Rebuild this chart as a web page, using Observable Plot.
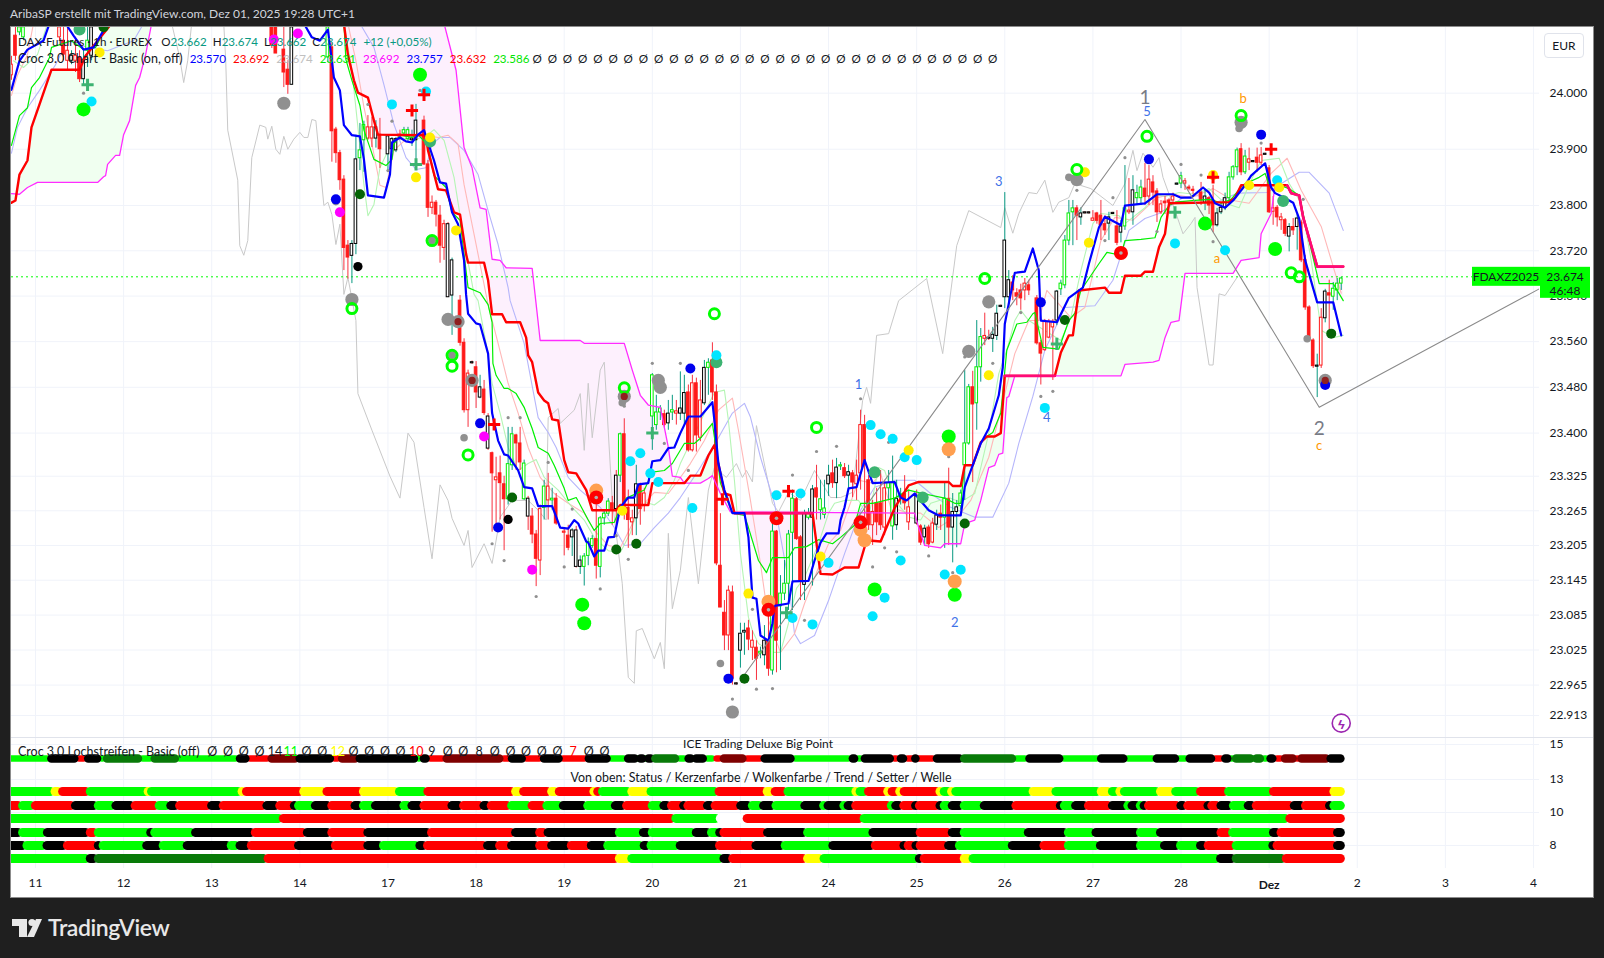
<!DOCTYPE html>
<html lang="de"><head><meta charset="utf-8">
<script src="https://cdn.jsdelivr.net/npm/d3@7"></script>
<script src="https://cdn.jsdelivr.net/npm/@observablehq/plot@0.6"></script>
<style>
html,body{margin:0;padding:0;background:#1f1f1f;width:1604px;height:958px;overflow:hidden;font-family:Lato,"Noto Sans",sans-serif;color:#131722}
.abs{position:absolute;white-space:pre;line-height:1}
#frame{position:absolute;left:10px;top:26px;width:1582px;height:870px;background:#fff;border:1px solid #8c8c8c;overflow:hidden}
#main,#lower{position:absolute;left:0;width:1582px}
#main{top:0;height:710px}#lower{top:710px;height:160px;border-top:1px solid #e0e3eb;box-sizing:border-box}
#main svg,#lower svg{display:block;background:transparent;overflow:visible}
</style></head><body>
<div class="abs" id="credit" style="left:10px;top:8px;color:#d1d4dc;font-size:12px"></div>
<div id="frame"><div id="main"></div><div id="lower"></div>
<div class="abs" id="leg1" style="left:7px;top:9px;font-size:11.6px"></div>
<div class="abs" id="leg2" style="left:7px;top:26px;font-size:12.5px"></div>
<div class="abs" style="left:1533px;top:6px;width:38px;height:23px;border:1px solid #e0e3eb;border-radius:4px;text-align:center;line-height:23px;font-size:12px;background:#fff">EUR</div>
<div class="abs" id="strip1" style="left:7px;top:719px;font-size:12.5px"></div>
<div class="abs" id="title1" style="left:747px;top:711px;transform:translateX(-50%);font-size:12px"></div>
<div class="abs" id="title2" style="left:750px;top:745px;transform:translateX(-50%);font-size:12.4px"></div>
</div>
<svg style="position:absolute;left:11px;top:917px" width="32" height="22"><rect x="1" y="2" width="15" height="7" fill="#e8e8e8"/><rect x="8" y="2" width="8" height="18" fill="#e8e8e8"/><circle cx="21" cy="5.5" r="3.6" fill="#e8e8e8"/><polygon points="25,2 31,2 23,20 16,20" fill="#e8e8e8"/></svg>
<div class="abs" style="left:48px;top:916px;color:#e8e8e8;font-size:23px;font-weight:600;letter-spacing:-.4px">TradingView</div>
<script>
// x = hourly bar number, bar 0 = session "11"; 22 bars per session
const sessionLabels=["11","12","13","14","17","18","19","20","21","24","25","26","27","28","Dez","2","3","4"];
const barsPerSession=22;
const priceTicks=[24000,23900,23800,23720,23640,23560,23480,23400,23325,23265,23205,23145,23085,23025,22965,22913];
const lastPrice=23674;

const blueLine=[[-6,24006],[-4,24058],[-2,24078],[2,24094],[3.5,24125],[7.5,24125],[9.5,24103],[12,24078],[14.5,24082],[18,24125],[67,24125],[69,24100],[71,24094],[73,24114],[74,24058],[74.5,24028],[76,24005],[77,23943],[79,23925],[81,23923],[82,23882],[83,23818],[87,23814],[88.5,23855],[89,23912],[91,23921],[92.5,23914],[94,23912],[95.5,23926],[97,23934],[98,23912],[99.5,23880],[101,23841],[102.5,23839],[104,23788],[105.5,23767],[107,23703],[107.5,23643],[108,23609],[110,23592],[111,23590],[113,23539],[114,23435],[115.5,23387],[117,23363],[118,23361],[120.5,23335],[122,23306],[124,23304],[125.5,23273],[129,23273],[131,23236],[133,23234],[134.5,23249],[135.5,23243],[137.5,23212],[138,23210],[139.5,23186],[140.5,23196],[142,23196],[143,23219],[144.5,23220],[146,23271],[148,23288],[149.5,23288],[150.5,23311],[153,23313],[154,23351],[156,23353],[158,23374],[159.5,23375],[161,23400],[163,23429],[166,23429],[169,23454],[169.5,23422],[170.5,23347],[172,23301],[174,23261],[177,23261],[178,23219],[179,23115],[180,23113],[181,23050],[183,23041],[184,23071],[184.5,23101],[188,23105],[189,23143],[193,23144],[194.5,23179],[196,23210],[197.5,23226],[200.5,23226],[201,23249],[202,23271],[203,23304],[205,23306],[207,23353],[209,23313],[214.5,23315],[216,23288],[217.5,23283],[219.5,23295],[221.5,23278],[223,23266],[225.5,23257],[231,23257],[232,23306],[236,23382],[238,23408],[240.5,23466],[241.5,23515],[242,23591],[244.5,23681],[247,23683],[249,23724],[250.5,23685],[251,23597],[255,23594],[258,23637],[261.5,23655],[263,23697],[265.5,23761],[267,23780],[271,23765],[272,23800],[277,23804],[280,23820],[284,23820],[286,23814],[288.5,23814],[291.5,23832],[293,23823],[294.5,23804],[297,23796],[299,23809],[302,23836],[303.5,23853],[307,23875],[308.5,23832],[309.5,23822],[312,23813],[314,23805],[315.5,23777],[317,23703],[320,23629],[324,23629],[326,23571]];
const redLine=[[-6,23805],[-5,23809],[-4,23855],[-2,23880],[-1,23939],[1,23980],[4,24042],[11,24042],[12.5,24067],[19,24125],[21,24300],[75,24300],[77,24125],[78,24069],[79.5,24023],[80.5,24001],[83,23992],[84.5,23951],[85.5,23926],[97,23925],[97.5,23921],[98,23898],[100.5,23829],[102.5,23827],[104.5,23788],[106,23784],[107.5,23714],[108,23699],[112,23699],[113,23668],[114,23608],[116.5,23608],[117.5,23594],[121,23594],[122.5,23567],[123,23536],[124,23524],[125.5,23471],[127,23457],[128,23452],[129,23424],[130.5,23422],[132,23353],[133,23332],[135,23330],[137.5,23301],[139,23266],[145,23266],[146,23275],[153,23275],[154,23313],[162,23313],[163.5,23326],[166,23326],[168,23361],[169.5,23379],[171,23330],[172,23295],[173.5,23292],[174.5,23261],[194,23261],[196,23156],[199,23155],[202,23167],[205.5,23167],[207.5,23214],[211,23212],[214.5,23270],[218,23309],[220.5,23315],[228,23315],[229,23308],[231,23308],[232,23344],[234,23344],[236,23384],[237.5,23394],[239.5,23394],[241,23400],[242,23500],[254.5,23500],[256,23541],[258,23571],[259,23571],[260.5,23650],[267,23655],[268,23646],[271,23646],[272,23676],[276,23676],[277,23683],[279,23683],[280.5,23726],[282,23750],[283,23804],[298,23806],[299.5,23814],[301,23836],[312.5,23836],[313.5,23822],[315.5,23818],[316.5,23779],[320,23692],[326.5,23692]];
const magentaLine=[[-6,23821],[-4,23820],[-2,23832],[0.5,23841],[15.5,23841],[17,23851],[17.5,23853],[18,23873],[20,23889],[21,23889],[22,23926],[23.5,23951],[25,24014],[26,24028],[27.5,24069],[29,24125],[31,24300],[100,24300],[102,24125],[105,24041],[107,23903],[109,23867],[111,23796],[112.5,23793],[114,23705],[116,23703],[117.5,23690],[124,23689],[126,23562],[136,23562],[137,23557],[147,23557],[149,23510],[151,23466],[153,23449],[156,23445],[158,23375],[159,23325],[161,23323],[162,23313],[166,23313],[168,23321],[169,23326],[171,23295],[173.5,23263],[219.5,23261],[220.5,23236],[222,23205],[226,23201],[227,23208],[231,23208],[232,23243],[234.5,23249],[236,23283],[238,23340],[239.5,23344],[240.5,23363],[241.5,23365],[242.5,23462],[243,23464],[244.5,23500],[271,23500],[272,23520],[279,23524],[280.5,23527],[282,23567],[283.5,23594],[285.5,23597],[287,23680],[299,23680],[301,23703],[305.5,23708],[306,23750],[308.5,23786],[309.5,23836],[312.5,23836],[313.5,23822],[315.5,23818],[316.5,23779],[320,23692],[326.5,23692]];
const pinkFlatA=[[174.5,23261],[194,23261]];
const pinkFlatB=[[242,23500],[254.5,23500]];
const pinkFlatC=[[312.5,23836],[313.5,23822],[315.5,23818],[316.5,23779],[320,23692],[326.5,23692]];
const greenLine=[[-6,23907],[-4,23960],[-2,23974],[-1,24010],[1,24028],[3.5,24064],[4,24082],[9,24094],[12,24078],[15,24082],[18,24125],[77,24125],[77.5,24060],[79,24023],[81,23978],[82,23934],[84.5,23882],[87.5,23871],[89,23882],[89.5,23909],[91,23925],[94,23921],[95.5,23926],[98,23907],[99.5,23853],[102.5,23832],[104,23788],[106,23774],[107,23714],[108,23655],[111,23646],[113,23625],[114,23594],[114.2,23522],[115,23501],[117,23478],[118,23478],[120,23469],[122,23445],[124,23408],[125.5,23375],[128,23365],[129.5,23344],[132,23304],[133,23283],[135,23288],[136,23275],[138,23249],[139.5,23231],[141,23243],[144.5,23245],[146,23270],[147.5,23287],[152,23301],[154,23332],[157,23335],[159,23347],[162,23382],[164.5,23382],[166,23391],[169,23417],[170,23370],[171,23313],[174,23261],[177,23257],[178,23236],[180.5,23179],[182.5,23158],[184,23184],[188,23184],[189.5,23201],[192.5,23203],[195.5,23215],[199,23208],[201,23219],[204.5,23240],[206,23278],[209,23278],[214.5,23287],[218,23301],[221.5,23295],[227,23287],[229.5,23278],[231,23278],[232,23344],[234,23344],[236,23384],[237.5,23394],[239,23401],[241,23435],[242.5,23545],[245,23591],[247.5,23594],[249,23609],[249.5,23611],[251.5,23550],[255.5,23547],[258,23597],[259.5,23610],[261,23650],[263,23671],[265.5,23697],[267.5,23717],[271,23712],[272,23738],[276,23740],[279.5,23743],[281,23779],[283,23800],[284.5,23806],[289.5,23809],[293.5,23811],[296,23804],[298.5,23811],[301.5,23837],[305.5,23850],[307,23857],[308,23836],[310.5,23836],[313,23830],[315.5,23818],[317.5,23752],[320.5,23662],[324,23662],[326.5,23632]];
const paleGreenLine=[[-5.5,24058],[-3,24046],[0.5,24069],[3,24125],[77,24125],[79,24041],[80.5,23939],[82,23837],[83,23782],[84.5,23802],[86,23867],[89,23912],[91,23921],[94.5,23916],[98,23926],[99.5,23935],[102,23916],[104.5,23850],[107,23738],[109.5,23643],[110.5,23632],[112.5,23557],[114,23487],[116,23435],[118,23375],[120.5,23335],[123,23347],[125,23354],[127,23323],[130.5,23301],[134,23271],[137,23249],[139.5,23219],[143,23196],[146,23193],[148.5,23226],[151,23283],[154.5,23275],[157,23288],[159.5,23318],[161,23347],[169.5,23471],[172,23475],[173,23422],[174.5,23318],[176,23191],[178,23081],[179,23058],[180.5,23036],[184,23021],[186,23021],[188,23071],[190,23131],[192,23150],[195.5,23208],[198,23261],[199.5,23278],[202,23283],[205.5,23283],[208,23254],[210.5,23340],[212,23335],[214.5,23283],[218,23254],[221,23249],[223.5,23278],[228,23288],[231,23280],[234.5,23295],[238,23400],[240.5,23504],[242.5,23545],[244.5,23597],[246,23615],[248,23597],[256,23562],[258.5,23602],[261,23685],[264,23768],[266,23786],[270.5,23782],[272,23768],[277,23796],[279.5,23820],[282,23816],[285.5,23823],[289.5,23820],[293,23830],[297,23804],[300.5,23796],[303.5,23845],[306,23880],[310.5,23884],[313,23839],[316,23804],[318.5,23703],[321,23580],[324,23567],[326.5,23571]];
const paleRedLine=[[-6,23996],[-4.5,24032],[-2,24069],[-0.5,24125],[78,24125],[80,24058],[82,23975],[84,23909],[86,23836],[87.5,23832],[89.5,23898],[93,23921],[97,23926],[100.5,23921],[103,23925],[105.5,23909],[107,23837],[109.5,23749],[113,23625],[115.5,23557],[118,23487],[120.5,23435],[123,23375],[126,23323],[129.5,23295],[133,23278],[137,23261],[139.5,23231],[143,23205],[146,23201],[149.5,23249],[152,23278],[154.5,23297],[158,23295],[160.5,23318],[163.5,23347],[167,23387],[170.5,23440],[174,23461],[175.5,23405],[178.5,23283],[181,23174],[183,23076],[186,23021],[189.5,23053],[192,23105],[195.5,23167],[198,23208],[201,23231],[205.5,23318],[209,23313],[211,23330],[213.5,23271],[218,23261],[221,23261],[225.5,23236],[231,23261],[233.5,23283],[238,23358],[241,23440],[244.5,23539],[248,23597],[250.5,23597],[252.5,23650],[258.5,23602],[262,23620],[266,23738],[269.5,23779],[274,23774],[280,23814],[284,23820],[288.5,23814],[294,23830],[299,23809],[303,23804],[308.5,23857],[312.5,23884],[316,23827],[321,23763],[324.5,23680],[326,23645]];
const paleBlueLine=[[-6,23893],[-4.5,23939],[-2,23974],[1,24005],[5,24051],[8,24094],[13,24082],[18,24076],[22,24087],[24.5,24094],[27,24125],[81,24125],[84.5,24082],[87,24015],[89.5,23944],[92.5,23885],[95,23864],[97.5,23867],[99,23909],[101,23921],[103.5,23921],[107,23898],[110.5,23855],[113,23791],[115.5,23731],[118,23655],[118.5,23632],[122,23557],[125.5,23427],[128,23401],[130,23375],[133,23323],[136,23301],[141,23271],[144.5,23236],[147,23205],[151,23208],[154.5,23236],[158,23261],[161,23288],[165.5,23335],[170.5,23392],[174,23435],[177,23452],[178.5,23428],[181,23358],[184.5,23278],[188,23144],[189.5,23053],[191,23036],[194.5,23050],[198,23110],[202,23191],[206,23266],[209.5,23306],[214.5,23318],[219.5,23318],[223.5,23295],[228.5,23271],[234.5,23254],[239,23254],[243,23313],[245.5,23382],[249,23464],[252,23545],[257,23620],[264.5,23623],[269,23668],[273,23756],[277,23777],[280.5,23786],[286.5,23814],[290,23818],[295,23806],[300,23822],[307.5,23823],[315.5,23859],[318,23859],[323,23822],[326.5,23756]];
const greyLine=[[34,24125],[36,24064],[37,24019],[38,24058],[39,24125],[47,24125],[47.5,24058],[48,23934],[50.5,23845],[51,23729],[52,23712],[53,23738],[54,23885],[56,23943],[57.5,23939],[58,23918],[59,23941],[60,23900],[61,23891],[62,23923],[63,23900],[64.5,23918],[66,23930],[67,23921],[68,23921],[69,23953],[70,23951],[72,23800],[73,23806],[74,23784],[75,23731],[76,23767],[77,23643],[78,23673],[80,23597],[80.5,23469],[84,23405],[88.5,23325],[91,23287],[93,23400],[94.5,23384],[97,23271],[99,23182],[101,23310],[103,23283],[104,23252],[107,23205],[108,23231],[109,23167],[112,23208],[114,23174],[116,23254],[119,23283],[123,23283],[125.5,23266],[127.5,23249],[128,23427],[130.5,23443],[131,23417],[134.5,23440],[136,23469],[137,23370],[138,23487],[139,23392],[141,23510],[142,23524],[144,23283],[146.5,23139],[148,22978],[149.5,22968],[150,23058],[151.5,23062],[154.5,23010],[156,23038],[157,22993],[158,23226],[159,23096],[161,23162],[163,23288],[165.5,23139],[168,23301],[169.5,23340],[172.5,23323],[175,23347],[176.5,23323],[177.5,23335],[179,23315],[180,23413],[184,23278],[185.5,23263],[188,23297],[191,23283],[194.5,23335],[198.5,23288],[201,23288],[204,23297],[206.5,23457],[207.5,23480],[208.5,23452],[210,23571],[213,23574],[215.5,23632],[222.5,23671],[226.5,23539],[230,23729],[233,23791],[241,23761],[242,23796],[244,23751],[245.5,23786],[248,23823],[250,23821],[252,23845],[254,23788],[255.5,23806],[258,23814],[259.5,23839],[263.5,23830],[269,23800],[272,23839],[274,23898],[275,23862],[276.5,23893],[279,23868],[280.5,23885],[281.5,23850],[284.5,23791],[286.5,23750],[288.5,23768],[289.5,23779],[290,23655],[293,23519],[294,23519],[295.5,23644],[297,23641],[300,23673]];
const waveLine=[[176.5,22978],[277,23953],[320.5,23445],[375.5,23653]];

// [bar, body high, body low, wick high, wick low, kind]  g green, r red hollow, R red solid, k black/teal wick, K black/red wick
const candlesA=[[-6,24051,24032,24066,24023,"r"],[-5,24103,24067,24118,24058,"R"],[-4,24118,24109,24118,24103,"g"],[-3,24118,24100,24118,24094,"g"],[6,24118,24100,24118,24094,"r"],[7,24094,24069,24118,24058,"R"],[8,24076,24058,24118,24039,"r"],[9,24067,24058,24076,24051,"k"],[10,24067,24058,24100,24037,"r"],[11,24064,24025,24076,24019,"R"],[12,24060,24025,24076,24014,"k"],[13,24094,24076,24118,24046,"g"],[14,24118,24067,24118,24058,"k"],[59,24118,24085,24118,24080,"R"],[60,24118,24071,24118,24071,"R"],[62,24078,24037,24118,24010,"R"],[63,24042,24015,24058,23998,"R"],[64,24118,24015,24118,24015,"k"],[73,24118,24064,24118,24055,"g"],[74,24082,23932,24090,23877,"R"],[75,23935,23893,23939,23875,"R"],[76,23893,23845,23898,23827,"R"],[77,23846,23725,23853,23685,"R"],[78,23729,23708,23738,23670,"R"],[79,23732,23711,23738,23662,"k"],[80,23882,23732,23925,23713,"k"],[81,23898,23884,23946,23862,"g"],[82,23943,23916,23950,23859,"g"],[83,23939,23919,23960,23916,"r"],[84,23939,23919,23957,23903,"r"],[85,23939,23919,23951,23902,"k"],[86,23926,23900,23955,23866,"R"],[88,23923,23891,23925,23862,"k"],[89,23918,23900,23921,23894,"k"],[90,23918,23898,23921,23894,"k"],[91,23926,23919,23934,23916,"r"],[92,23934,23928,23939,23924,"g"],[93,23934,23918,23939,23912,"g"],[94,23919,23916,23934,23905,"k"],[95,23951,23916,23980,23871,"k"],[97,23951,23873,23959,23871,"R"],[98,23873,23796,23880,23779,"R"],[99,23805,23796,23817,23784,"r"],[100,23805,23784,23809,23762,"R"],[101,23782,23729,23800,23698,"R"],[102,23767,23725,23774,23703,"r"],[103,23767,23638,23770,23638,"K"],[104,23703,23641,23707,23571,"k"],[106,23632,23558,23641,23552,"R"],[107,23558,23440,23565,23435,"R"],[108,23504,23440,23510,23410,"r"],[109,23524,23522,23526,23520,"K"],[110,23515,23471,23525,23443,"R"],[111,23480,23462,23501,23460,"k"],[112,23476,23435,23492,23431,"R"],[113,23429,23373,23434,23370,"K"],[114,23365,23330,23367,23228,"R"],[115,23323,23318,23358,23231,"r"],[116,23330,23313,23360,23249,"R"],[117,23311,23285,23325,23196,"R"],[118,23346,23285,23410,23275,"g"],[119,23398,23344,23410,23335,"g"],[120,23396,23382,23398,23335,"R"],[121,23382,23349,23410,23335,"R"],[122,23347,23285,23353,23283,"g"],[123,23286,23255,23290,23231,"K"],[124,23255,23224,23269,23208,"R"],[125,23224,23182,23231,23134,"R"],[126,23268,23179,23275,23153,"r"],[127,23307,23270,23318,23249,"g"],[128,23307,23283,23330,23249,"r"],[129,23286,23283,23304,23266,"g"],[130,23286,23243,23295,23240,"R"]];
const candlesB=[[132,23229,23227,23236,23187,"r"],[133,23222,23201,23240,23196,"R"],[134,23231,23219,23234,23186,"k"],[135,23231,23168,23238,23166,"K"],[136,23179,23168,23187,23155,"k"],[137,23186,23168,23191,23135,"g"],[138,23211,23187,23218,23170,"g"],[139,23216,23204,23222,23200,"g"],[140,23216,23170,23275,23147,"R"],[141,23252,23168,23255,23149,"g"],[142,23260,23252,23266,23240,"g"],[143,23281,23260,23286,23255,"g"],[144,23278,23268,23290,23240,"R"],[145,23326,23268,23335,23243,"K"],[146,23398,23326,23400,23314,"g"],[147,23398,23270,23425,23249,"R"],[148,23270,23249,23301,23200,"R"],[149,23252,23245,23266,23222,"r"],[150,23311,23252,23344,23222,"k"],[151,23309,23268,23313,23240,"R"],[152,23295,23275,23304,23263,"r"],[154,23501,23429,23504,23370,"g"],[155,23436,23414,23466,23405,"g"],[156,23443,23436,23448,23422,"g"],[157,23433,23414,23440,23409,"R"],[158,23434,23417,23457,23405,"k"],[159,23440,23436,23466,23422,"g"],[160,23438,23434,23457,23414,"r"],[161,23443,23434,23507,23422,"k"],[162,23470,23434,23501,23414,"k"],[163,23471,23370,23484,23367,"R"],[164,23487,23370,23501,23367,"r"],[165,23487,23396,23496,23367,"R"],[166,23457,23392,23492,23385,"r"],[167,23514,23452,23527,23448,"k"],[168,23523,23514,23530,23466,"g"],[169,23527,23471,23558,23457,"R"],[170,23471,23174,23484,23170,"R"],[171,23170,23098,23260,23098,"R"],[172,23089,23050,23110,23024,"R"],[173,23127,23050,23135,23024,"r"],[174,23124,22976,23135,22965,"R"],[175,22968,22966,22969,22965,"K"],[176,23053,23024,23071,22994,"k"],[177,23058,23055,23071,23016,"k"],[178,23062,23043,23076,23024,"R"],[179,23041,23029,23058,23007,"r"],[180,23029,23010,23041,22973,"R"],[181,23022,23019,23030,23010,"g"],[182,23041,23016,23067,22998,"k"],[183,23041,22993,23103,22980,"R"],[184,23229,22990,23245,22982,"g"],[185,23229,23041,23231,22986,"R"],[186,23122,23100,23153,22990,"g"],[187,23139,23122,23179,23110,"g"],[188,23224,23139,23231,23093,"g"],[189,23286,23227,23301,23093,"g"],[190,23285,23216,23288,23214,"R"],[191,23219,23144,23222,23110,"R"],[192,23260,23137,23266,23110,"k"],[193,23260,23253,23269,23249,"g"],[194,23302,23253,23309,23135,"k"],[195,23304,23288,23344,23249,"R"],[196,23285,23266,23318,23249,"g"],[197,23269,23258,23318,23251,"g"],[198,23326,23311,23344,23290,"k"],[199,23330,23313,23353,23304,"R"],[200,23340,23313,23356,23286,"k"],[201,23344,23342,23349,23335,"g"],[202,23339,23325,23347,23321,"R"],[203,23332,23326,23344,23301,"k"],[204,23330,23314,23335,23288,"R"],[205,23326,23311,23353,23283,"r"],[206,23414,23330,23440,23301,"r"],[207,23414,23344,23431,23240,"R"],[208,23318,23240,23326,23231,"R"],[209,23263,23240,23283,23205,"r"],[210,23278,23245,23304,23222,"R"],[211,23278,23240,23335,23231,"R"],[212,23304,23236,23318,23222,"r"],[213,23313,23304,23335,23283,"g"],[214,23313,23238,23360,23214,"g"],[215,23286,23240,23318,23231,"k"],[216,23293,23288,23304,23275,"g"],[217,23295,23278,23326,23266,"R"],[218,23271,23245,23301,23231,"r"],[220,23290,23243,23301,23240,"K"],[221,23238,23210,23241,23205,"R"],[222,23234,23219,23240,23205,"k"],[223,23236,23207,23240,23200,"R"],[224,23243,23210,23252,23208,"r"],[225,23257,23241,23266,23231,"k"],[226,23260,23253,23275,23231,"R"],[227,23286,23253,23313,23200,"g"],[228,23285,23236,23339,23205,"R"],[229,23263,23236,23295,23175,"k"],[230,23271,23263,23283,23201,"k"],[231,23295,23273,23301,23266,"g"]];
const candlesC=[[232,23382,23344,23510,23283,"g"],[233,23480,23382,23485,23379,"g"],[234,23480,23450,23508,23314,"R"],[235,23515,23452,23597,23405,"g"],[236,23568,23515,23583,23489,"g"],[237,23570,23565,23610,23553,"r"],[238,23567,23565,23580,23562,"K"],[239,23572,23565,23585,23541,"k"],[240,23609,23570,23624,23562,"k"],[241,23623,23621,23624,23620,"K"],[242,23738,23638,23823,23618,"k"],[243,23668,23638,23685,23615,"k"],[244,23664,23650,23676,23632,"R"],[245,23645,23639,23653,23623,"R"],[246,23650,23636,23661,23615,"R"],[247,23662,23650,23671,23632,"r"],[248,23659,23650,23668,23641,"R"],[250,23636,23557,23641,23554,"R"],[251,23557,23539,23562,23484,"R"],[252,23595,23545,23599,23543,"r"],[253,23595,23567,23599,23565,"r"],[254,23595,23585,23599,23492,"r"],[255,23648,23597,23650,23588,"k"],[256,23662,23652,23668,23641,"g"],[257,23738,23659,23747,23653,"g"],[258,23786,23738,23809,23729,"g"],[259,23795,23788,23809,23729,"g"],[260,23795,23782,23800,23738,"R"],[261,23786,23779,23796,23765,"k"],[262,23788,23786,23789,23785,"K"],[263,23788,23786,23789,23785,"K"],[264,23777,23773,23791,23773,"r"],[265,23786,23773,23788,23767,"R"],[266,23782,23765,23809,23738,"R"],[267,23767,23756,23782,23747,"R"],[268,23779,23768,23788,23738,"k"],[269,23787,23785,23788,23784,"K"],[270,23763,23734,23791,23729,"R"],[271,23763,23752,23774,23734,"k"],[272,23795,23763,23871,23756,"g"],[273,23791,23788,23848,23784,"r"],[274,23827,23788,23853,23765,"k"],[275,23822,23813,23836,23800,"g"],[276,23832,23813,23845,23800,"g"],[277,23830,23815,23875,23800,"R"],[278,23846,23816,23871,23800,"r"],[279,23841,23823,23853,23800,"R"],[280,23825,23788,23830,23770,"R"]];
const candlesD=[[281,23802,23788,23809,23784,"r"],[282,23807,23804,23816,23784,"R"],[283,23809,23805,23812,23800,"R"],[284,23816,23809,23822,23805,"r"],[285,23839,23837,23840,23836,"k"],[286,23852,23839,23859,23830,"g"],[287,23843,23839,23848,23827,"r"],[288,23832,23830,23836,23826,"R"],[289,23828,23826,23834,23820,"R"],[291,23823,23809,23841,23800,"R"],[292,23816,23805,23827,23791,"k"],[293,23813,23800,23816,23784,"R"],[294,23809,23765,23836,23752,"R"],[295,23786,23765,23795,23762,"k"],[296,23796,23788,23804,23784,"k"],[297,23813,23796,23822,23791,"k"],[298,23850,23813,23859,23800,"g"],[299,23868,23850,23871,23845,"g"],[300,23898,23868,23902,23853,"g"],[301,23900,23859,23910,23853,"R"],[302,23887,23859,23898,23855,"g"],[303,23882,23876,23902,23862,"r"],[304,23879,23877,23880,23876,"k"],[305,23885,23876,23902,23859,"R"],[306,23889,23876,23903,23871,"r"],[307,23892,23890,23893,23889,"K"],[308,23866,23788,23871,23786,"R"],[309,23795,23789,23816,23765,"r"],[310,23796,23779,23800,23762,"R"],[311,23779,23774,23786,23756,"r"],[312,23774,23750,23777,23745,"R"],[313,23762,23745,23768,23718,"k"],[314,23762,23756,23777,23747,"R"],[315,23777,23762,23784,23721,"k"],[316,23770,23703,23774,23699,"R"],[317,23704,23620,23712,23615,"R"],[318,23620,23564,23623,23560,"R"],[319,23562,23517,23565,23513,"R"],[320,23518,23516,23538,23462,"k"],[321,23602,23518,23618,23513,"r"],[322,23648,23601,23652,23593,"k"],[323,23645,23641,23668,23580,"R"],[324,23653,23639,23664,23615,"g"],[325,23662,23650,23671,23632,"g"],[326,23671,23662,23673,23650,"g"]];

const limeDots=[[12,23971],[96,24033],[136.5,23103],[137,23071],[209.5,23129],[229.5,23120],[228,23394],[292,23768],[309.5,23723]];
const limeRings=[[79,23618],[99,23738],[104,23536],[104,23517],[108,23362],[147,23479],[169.5,23609],[195,23410],[237,23671],[260,23864],[277.5,23923],[301,23960],[313.5,23681],[315.5,23674]];
const greyBig=[[62,23982],[79,23634],[103,23599],[105.5,23595],[109,23492],[155.5,23492],[156,23480],[147,23464],[174,22919],[233,23543],[238,23630],[260,23846],[301,23948],[322,23492]];
const greyMid=[[146.5,23453],[107,23392],[171,23002],[75,23807],[258,23850],[300.5,23937],[317.5,23565],[99,23738],[104,23536]];
const darkRedDots=[[105.5,23595],[109,23492],[147,23464],[322,23492]];
const cyanDots=[[14,23985],[89,23980],[97.5,24003],[148.5,23351],[151,23365],[153.5,23330],[155.5,23315],[164,23270],[170,23536],[185,23292],[191,23295],[198,23175],[189,23080],[194,23069],[208.5,23414],[211,23398],[214,23390],[217,23358],[220,23353],[216,23179],[212,23115],[209,23083],[227,23155],[231,23163],[252,23444],[284.5,23733],[297,23721],[310,23845]];
const yellowDots=[[16,24073],[98.5,23921],[95,23850],[105,23756],[146.5,23265],[178,23122],[196,23186],[218,23370],[238,23501],[263,23734],[303,23836],[310.5,23832],[294,23854],[262,23859]];
const blueDots=[[75,23811],[111,23417],[115.5,23236],[163.5,23513],[173,22976],[251,23629],[278,23882],[306,23926],[322,23484]];
const magentaDots=[[59.5,24096],[65.5,24107],[76,23788],[112,23394],[124,23163]];
const blackDots=[[80.5,23692],[118,23250]];
const darkGreenDots=[[17,24118],[81,23820],[119,23288],[145,23198],[150,23208],[177,22976],[232,23243],[257,23598],[323.5,23574]];
const seaGreenDots=[[11,24114],[98.5,23914],[170,23524],[209.5,23332],[221.5,23288],[311.5,23808]];
const orangeDots=[[140,23300],[183,23108],[206,23232],[207,23214],[228,23372],[229.5,23143]];
const redDots=[[140,23288],[183,23094],[185,23252],[206,23245],[271,23716]];
const redPlus=[[114.5,23415],[94,23969],[97,23997],[171.5,23285],[188,23299],[294,23850],[308.5,23900]];
const greenPlus=[[13,24015],[95,23873],[154,23400],[187.5,23089],[255,23556],[284.5,23788]];
const smallGrey=[[12,24000],[83,23980],[89,23950],[88,23862],[96,24005],[118,23427],[121,23427],[128,23349],[134,23268],[114,23208],[117,23179],[125,23117],[132,23168],[141,23130],[145,23222],[148,23181],[147,23447],[154,23522],[157,23382],[161,23522],[163,23335],[174,22941],[180,22958],[184,22959],[179,23095],[189,23327],[195,23368],[200,23377],[206,23460],[213,23384],[192,23076],[209,23168],[212,23201],[215,23194],[223,23187],[228,23359],[229,23158],[232,23533],[239,23522],[246,23611],[251,23464],[254,23473],[260,23827],[269,23814],[267,23738],[272,23885],[280,23754],[286,23873],[291,23854],[294,23736],[306,23911],[316.5,23811]];
const waveLabels=[[277,23992,"1","#787b86",19],[277.5,23966,"5","#3f72e8",13],[301.5,23990,"b","#ff9800",13],[295,23705,"a","#ff9800",13],[240.5,23842,"3","#3f72e8",13],[205.5,23484,"1","#3f72e8",13],[252.5,23427,"4","#3f72e8",13],[229.5,23072,"2","#3f72e8",13],[320.5,23408,"2","#787b86",19],[320.5,23377,"c","#ff9800",13]];

// status strips: [start bar, colour code], last entry closes the row
const stripBig=[[-7,"L"],[3.5,"K"],[10.4,"R"],[12.7,"K"],[16.1,"L"],[17.4,"D"],[26.3,"L"],[29.3,"D"],[35.5,"L"],[50.6,"K"],[53.1,"R"],[58.5,"M"],[65.5,"K"],[74.2,"R"],[76.1,"M"],[80.5,"K"],[95.2,"L"],[96.5,"K"],[98.1,"R"],[102.2,"M"],[116.5,"R"],[118.5,"K"],[122.1,"R"],[126.5,"K"],[131.3,"R"],[137.7,"K"],[143.3,"L"],[147.5,"K"],[150.3,"L"],[150.6,"K"],[152.2,"L"],[152.6,"K"],[154.3,"D"],[160.4,"L"],[162.6,"K"],[164.3,"L"],[164.5,"K"],[167.3,"L"],[169.6,"R"],[171.4,"M"],[177.2,"R"],[181.6,"K"],[189.2,"L"],[203.6,"K"],[205.1,"L"],[206.6,"K"],[214,"R"],[215.6,"K"],[217.3,"R"],[219.5,"K"],[220.1,"R"],[224.6,"K"],[231.4,"D"],[244.5,"L"],[247.7,"K"],[256.3,"L"],[265.6,"K"],[272.3,"L"],[279.5,"K"],[285.2,"L"],[287.7,"K"],[294.2,"R"],[296.6,"K"],[298.3,"L"],[299.3,"D"],[304,"L"],[304.4,"D"],[306.4,"L"],[307.9,"K"],[309.5,"R"],[311.5,"M"],[314.6,"R"],[315.6,"M"],[322.9,"K"],[326.5,"K"]];
const stripStatus=[[-7,"L"],[4.4,"Y"],[6.3,"R"],[13.2,"L"],[28,"Y"],[28.5,"L"],[51.2,"Y"],[52.2,"R"],[66.5,"Y"],[72.3,"R"],[81.4,"Y"],[90.4,"L"],[97.5,"R"],[119.4,"Y"],[121.4,"R"],[128.4,"Y"],[130.3,"R"],[139.2,"Y"],[139.9,"R"],[141.1,"L"],[148.4,"Y"],[153.2,"L"],[170.2,"R"],[182.2,"Y"],[184.2,"R"],[187.4,"L"],[204.5,"Y"],[205.4,"L"],[207.5,"R"],[212.4,"Y"],[213.4,"R"],[215.4,"Y"],[216.4,"R"],[225.5,"Y"],[226.4,"L"],[228.4,"Y"],[229.3,"L"],[248.6,"Y"],[254.3,"L"],[265.6,"Y"],[268.4,"L"],[270.3,"Y"],[271.4,"L"],[280.4,"Y"],[284.2,"L"],[290.4,"R"],[297.4,"L"],[308.6,"R"],[323.7,"Y"],[326.5,"Y"]];
const stripCandle=[[-7,"R"],[-3.7,"L"],[-0.5,"R"],[9.5,"K"],[15.2,"L"],[19.6,"K"],[24.4,"R"],[30.4,"L"],[33.3,"K"],[35.5,"R"],[43.5,"K"],[46.4,"R"],[57.3,"K"],[60.5,"R"],[64.3,"K"],[65.2,"L"],[69.4,"K"],[73.5,"R"],[79.3,"K"],[81.4,"L"],[84.4,"K"],[91.5,"L"],[93.5,"K"],[96.5,"R"],[103.5,"K"],[106.4,"R"],[111.5,"K"],[113.3,"R"],[118.4,"L"],[123.5,"R"],[127.2,"L"],[131.3,"K"],[137.4,"L"],[144.3,"K"],[147.1,"R"],[153.5,"L"],[156.4,"K"],[158.3,"R"],[161.5,"K"],[162.4,"R"],[167.3,"K"],[169.2,"R"],[175.6,"K"],[178.5,"L"],[181.3,"K"],[184.4,"L"],[191.6,"K"],[196.4,"L"],[197.4,"K"],[201.5,"L"],[202.4,"K"],[204.3,"R"],[213.3,"L"],[214.3,"K"],[216.3,"R"],[219.5,"K"],[220.2,"R"],[225.5,"K"],[226.4,"L"],[228.4,"K"],[231.4,"L"],[236.4,"K"],[244.3,"R"],[255.6,"K"],[256.4,"L"],[259.2,"K"],[262.4,"R"],[268.4,"K"],[272.4,"L"],[273.3,"K"],[275.5,"L"],[276.4,"K"],[277.4,"R"],[285.5,"K"],[287.2,"R"],[292.5,"K"],[293.2,"R"],[295.5,"K"],[298.6,"L"],[302.3,"K"],[304.3,"R"],[313.8,"K"],[316.6,"R"],[322.7,"K"],[323.7,"L"],[326.5,"L"]];
const stripCloud=[[-7,"L"],[61.4,"R"],[159.4,"L"],[170.5,"W"],[177.2,"R"],[206.4,"L"],[312.7,"R"],[326.5,"R"]];
const stripTrend=[[-7,"K"],[-3.7,"L"],[2.5,"K"],[13.2,"R"],[15.2,"L"],[28.5,"K"],[29.3,"L"],[39.5,"K"],[54.4,"R"],[67.4,"K"],[73.5,"R"],[82.5,"K"],[98.4,"R"],[119.4,"K"],[125.4,"R"],[127.5,"K"],[145.3,"L"],[151.3,"K"],[153.5,"L"],[164.5,"K"],[168.3,"L"],[170.5,"K"],[171.4,"R"],[182.3,"K"],[192.3,"L"],[208.6,"K"],[220.4,"R"],[228.4,"K"],[231.4,"L"],[247.4,"K"],[257.4,"L"],[264.3,"K"],[275.4,"L"],[280.4,"K"],[295.5,"R"],[298.4,"L"],[308.6,"K"],[310.5,"R"],[324.6,"K"],[326.5,"K"]];
const stripSetter=[[-7,"K"],[-2.6,"L"],[2.4,"K"],[7.5,"R"],[15.2,"K"],[16.4,"L"],[27.3,"K"],[31.4,"L"],[37.4,"K"],[48.4,"L"],[50.6,"K"],[53.4,"R"],[65.2,"K"],[74.4,"R"],[82.5,"K"],[86.4,"L"],[95.5,"K"],[97.4,"R"],[112.4,"K"],[115.4,"R"],[118.4,"K"],[125.4,"R"],[128.4,"K"],[133.3,"R"],[138.3,"K"],[142.4,"L"],[151.5,"K"],[153.2,"L"],[160.5,"K"],[170.3,"R"],[179.4,"K"],[186.7,"L"],[198.6,"K"],[209.2,"R"],[216.5,"K"],[217.4,"R"],[219.5,"K"],[220.4,"R"],[227.5,"K"],[230.2,"L"],[243.4,"K"],[251.3,"R"],[257.4,"L"],[265.4,"K"],[275.4,"L"],[281.4,"K"],[285.4,"L"],[290.4,"K"],[292.3,"R"],[299.3,"L"],[308.6,"K"],[309.5,"R"],[324.6,"K"],[326.5,"K"]];
const stripWave=[[-7,"L"],[13.2,"K"],[15.2,"D"],[57.6,"R"],[145.3,"Y"],[148.4,"L"],[171.4,"K"],[173.6,"R"],[192.3,"Y"],[196.4,"L"],[220.2,"K"],[221.4,"R"],[231.4,"Y"],[233.6,"L"],[295.4,"K"],[299.3,"D"],[311.8,"R"],[326.5,"R"]];
const stripRows=[[stripStatus,11.27],[stripCandle,10.42],[stripCloud,9.64],[stripTrend,8.79],[stripSetter,8],[stripWave,7.21]];
const bigStripRow=13.27;
const paneLevels=[8,10,12,14.12];
const paneLabels=["8","10","13","15"];

const creditText="AribaSP erstellt mit TradingView.com, Dez 01, 2025 19:28 UTC+1";
const ohlcText=[["O","23.662"],["H","23.674"],["L","23.662"],["C","23.674"]];
const indicatorValues=[["23.570","#0000ff"],["23.692","#ff0000"],["23.674","#c0c0c0"],["23.631","#00e600"],["23.692","#ff00ff"],["23.757","#0000ff"],["23.632","#ff0000"],["23.586","#00e600"]];
const holeCounts=[["Ø"],["Ø"],["Ø"],["Ø"],["14"],["11","#00ff00"],["Ø"],["Ø"],["12","#ffff00"],["Ø"],["Ø"],["Ø"],["Ø"],["10","#ff0000"],["9"],["Ø"],["Ø"],["8"],["Ø"],["Ø"],["Ø"],["Ø"],["Ø"],["7","#ff0000"],["Ø"],["Ø"]];

/* ---------- page text ---------- */
const $=id=>document.getElementById(id);
$("credit").textContent=creditText;
$("leg1").innerHTML=`DAX-Futures · 1h · EUREX<span style="margin-left:9px"></span>`+ohlcText.map(([k,v])=>`${k}<span style="color:#089981">${v}</span>`).join('<span style="margin-left:6px"></span>')+`<span style="color:#089981;margin-left:7px">+12 (+0,05%)</span>`;
$("leg2").innerHTML=`Croc 3.0 Chart - Basic (on, off)`+indicatorValues.map(([v,c])=>`<span style="color:${c};margin-left:7px;font-size:11.6px">${v}</span>`).join("")+d3.range(31).map(()=>`<span style="display:inline-block;width:15.2px;text-align:center;color:#131722;font-size:11.6px">Ø</span>`).join("");
$("strip1").innerHTML=`Croc 3.0 Lochstreifen - Basic (off)<span style="margin-left:5px"></span>`+holeCounts.map(([v,c])=>`<span style="display:inline-block;width:15.7px;text-align:center;color:${c||"#131722"}">${v}</span>`).join("");
$("title1").textContent="ICE Trading Deluxe Big Point";
$("title2").textContent="Von oben: Status / Kerzenfarbe / Wolkenfarbe / Trend / Setter / Welle";

/* ---------- helpers ---------- */
const W=1582,MR=54,F='Lato,"Noto Sans",sans-serif';
const xScale={type:"linear",domain:[-5.99,375.5],range:[0,W-MR],axis:null};
const sessionTicks=sessionLabels.map((_,i)=>i*barsPerSession);
const X=d=>d[0],Y=d=>d[1];
const bisect=d3.bisector(X).left;
const at=(s,x)=>{let i=bisect(s,x);if(i<=0)return s[0][1];if(i>=s.length)return s[s.length-1][1];const[a,b]=[s[i-1],s[i]];return a[1]+(b[1]-a[1])*(x-a[0])/(b[0]-a[0]||1)};
const band=(a,b,from,to)=>{const xs=Array.from(new Set([from,to,...a.map(X),...b.map(X)])).filter(x=>x>=from&&x<=to).sort(d3.ascending);return xs.map(x=>({x,y1:at(a,x),y2:at(b,x)}))};
const area=(a,b,from,to,fill)=>Plot.areaY(band(a,b,from,to),{x:"x",y1:"y1",y2:"y2",fill,clip:true});
const line=(s,stroke,strokeWidth)=>Plot.line(s,{x:X,y:Y,stroke,strokeWidth,clip:true,strokeLinejoin:"round"});
const dots=(s,fill,r)=>Plot.dot(s,{x:X,y:Y,fill,r,clip:true});
const candles=[...candlesA,...candlesB,...candlesC,...candlesD];
const wickColor=d=>(d[5]=="g"||d[5]=="k")?"#089981":"#f7303f";
const bodyColor=d=>d[5]=="g"?"#00ee00":(d[5]=="k"||d[5]=="K")?"#000000":"#ff1a1a";
const GREENFILL="#f0fff0",PINKFILL="#fdf0fd";
const priceFmt=v=>d3.format(",")(v).replace(",",".");

/* ---------- main pane ---------- */
const priceTag=(index,{y})=>{
  const py=y(lastPrice);
  const g=d3.create("svg:g").attr("font-family",F);
  g.append("rect").attr("x",1461).attr("y",py-9.5).attr("width",68).attr("height",19).attr("fill","#00ff00");
  g.append("text").attr("x",1495).attr("y",py+4.5).attr("text-anchor","middle").attr("font-size",12).attr("fill","#131722").text("FDAXZ2025");
  g.append("rect").attr("x",1529).attr("y",py-9.5).attr("width",50).attr("height",31).attr("fill","#00ff00");
  g.append("text").attr("x",1554).attr("y",py+4.5).attr("text-anchor","middle").attr("font-size",12).attr("fill","#131722").text(priceFmt(lastPrice));
  g.append("text").attr("x",1554).attr("y",py+19).attr("text-anchor","middle").attr("font-size",12).attr("fill","#131722").text("46:48");
  return g.node();
};
const mainPlot=Plot.plot({
  width:W,height:710,marginLeft:0,marginRight:MR,marginTop:0,marginBottom:0,
  style:{fontFamily:F,fontSize:"12px",background:"transparent",color:"#131722"},
  x:xScale,
  y:{type:"log",domain:[22875.5,24117.7],range:[710,0],axis:null},
  color:{type:"identity"},
  marks:[
    Plot.gridY(priceTicks,{stroke:"#f0f3fa",strokeOpacity:1,strokeWidth:1}),
    Plot.gridX(sessionTicks,{stroke:"#f0f3fa",strokeOpacity:1,strokeWidth:1}),
    area(redLine,magentaLine,-6,29,GREENFILL),
    area(redLine,magentaLine,77,162,PINKFILL),
    area(redLine,magentaLine,162,174.5,GREENFILL),
    area(magentaLine,greenLine,177,194,PINKFILL),
    area(redLine,magentaLine,194,214.5,PINKFILL),
    area(redLine,magentaLine,214.5,309.5,GREENFILL),
    area(redLine,greenLine,320,326.5,PINKFILL),
    line(greyLine,"#c9c9c9",1),
    line(paleBlueLine,"#b6b6fb",1.1),
    line(paleRedLine,"#ffb8b8",1.1),
    line(paleGreenLine,"#b5f5b5",1.1),
    Plot.ruleY([lastPrice],{stroke:"#00ff00",strokeWidth:1,strokeDasharray:"2 3"}),
    Plot.ruleX(candles,{x:X,y1:d=>d[3],y2:d=>d[4],stroke:wickColor,strokeWidth:1,clip:true}),
    Plot.rect(candles,{x1:d=>d[0]-.33,x2:d=>d[0]+.33,y1:d=>d[1],y2:d=>d[2],fill:d=>d[5]=="R"?"#ff1a1a":"#ffffff",stroke:bodyColor,strokeWidth:1,clip:true}),
    line(greenLine,"#00f000",1.2),
    line(magentaLine,"#ff2cff",1.3),
    line(redLine,"#ff0000",2.4),
    line(pinkFlatA,"#ff0a78",2.6),line(pinkFlatB,"#ff0a78",2.6),line(pinkFlatC,"#ff0a78",2.6),
    line(blueLine,"#0000ff",2.2),
    line(waveLine,"#8a8a8a",1.1),
    dots(smallGrey,"#909090",1.6),
    dots(greyBig,"#909090",6.6),
    dots(greyMid,"#909090",3.8),
    dots(blackDots,"#000000",4.6),
    dots(blueDots,"#0000ee",5),
    dots(magentaDots,"#ff00ff",5),
    dots(darkGreenDots,"#056405",5),
    dots(seaGreenDots,"#3cb371",6),
    dots(limeDots,"#00ff00",7),
    dots(cyanDots,"#00e5ff",5),
    dots(yellowDots,"#ffee00",5),
    Plot.dot(limeRings,{x:X,y:Y,r:5,fill:"none",stroke:"#00ff00",strokeWidth:3,clip:true}),
    dots(orangeDots,"#ff9f4f",7),
    dots(redDots,"#ff0000",7),
    dots(redDots,"#b0b0b0",1.8),
    dots(darkRedDots,"#8f1f1f",3.6),
    Plot.dot(redPlus,{x:X,y:Y,symbol:"plus",r:4,stroke:"#ff0000",strokeWidth:3,clip:true}),
    Plot.dot(greenPlus,{x:X,y:Y,symbol:"plus",r:4,stroke:"#3cb371",strokeWidth:3,clip:true}),
    ...d3.groups(waveLabels,d=>d[4]).map(([size,rows])=>Plot.text(rows,{x:X,y:Y,text:d=>d[2],fill:d=>d[3],fontSize:size})),
    Plot.dot([[326,22900]],{x:X,y:Y,r:9,fill:"#fff",stroke:"#9c27b0",strokeWidth:1.6}),
    Plot.text([[326,22900]],{x:X,y:Y,text:()=>"ϟ",fill:"#9c27b0",fontSize:13,fontWeight:700}),
    Plot.axisY(priceTicks,{anchor:"right",tickSize:0,tickPadding:10,tickFormat:priceFmt,fontSize:12,color:"#131722",label:null}),
    priceTag
  ]
});
$("main").append(mainPlot);

/* ---------- lower pane ---------- */
const COLORS={L:"#00ff00",R:"#ff0000",Y:"#ffff00",K:"#000000",D:"#087a08",M:"#7f0000",W:"#ffffff"};
const segs=(rows,row)=>d3.pairs(rows).map(([a,b])=>{const m=(a[0]+b[0])/2,l=Math.min(a[0]+.6,m),r=Math.max(b[0]-.6,m);return{x1:l,x2:r,row,c:COLORS[a[1]],code:a[1]}});
const bigSegs=segs(stripBig,bigStripRow);
const rows=stripRows.flatMap(([s,y])=>segs(s,y));
const strip=(data,w)=>Plot.ruleY(data,{y:"row",x1:"x1",x2:"x2",stroke:"c",strokeWidth:w,strokeLinecap:"round",clip:true});
const isDark=d=>"KDM".includes(d.code);
const labelBars=sessionTicks.filter((_,i)=>sessionLabels[i]!=="Dez");
const boldBars=sessionTicks.filter((_,i)=>sessionLabels[i]==="Dez");
const lowerPlot=Plot.plot({
  width:W,height:159,marginLeft:0,marginRight:MR,marginTop:0,marginBottom:29,
  style:{fontFamily:F,fontSize:"12px",background:"transparent",color:"#131722"},
  x:xScale,
  y:{domain:[6.606,14.485],range:[130,0],axis:null},
  color:{type:"identity"},
  marks:[
    Plot.gridY(paneLevels,{stroke:"#f0f3fa",strokeOpacity:1}),
    Plot.gridX(sessionTicks,{stroke:"#f0f3fa",strokeOpacity:1}),
    strip(bigSegs.filter(d=>!isDark(d)),6.6),
    strip(bigSegs.filter(isDark),8.6),
    strip(rows,9),
    Plot.axisY(paneLevels,{anchor:"right",tickSize:0,tickPadding:10,tickFormat:v=>paneLabels[paneLevels.indexOf(v)],fontSize:12,color:"#131722",label:null}),
    Plot.axisX(labelBars,{anchor:"bottom",tickSize:0,tickPadding:10,tickFormat:b=>sessionLabels[b/barsPerSession],fontSize:12,color:"#131722",label:null}),
    Plot.text(boldBars,{x:d=>d,frameAnchor:"bottom",dy:20,text:b=>sessionLabels[b/barsPerSession],fontWeight:700,fontSize:12,fill:"#131722"})
  ]
});
$("lower").append(lowerPlot);
</script></body></html>
